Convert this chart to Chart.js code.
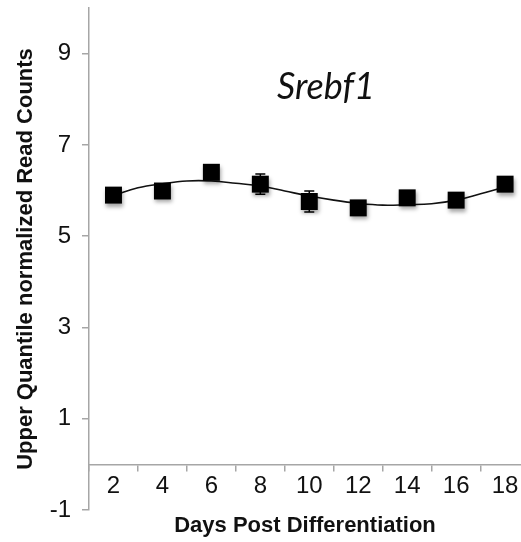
<!DOCTYPE html>
<html>
<head>
<meta charset="utf-8">
<script src="https://cdn.jsdelivr.net/npm/chart.js@4.4.0/dist/chart.umd.min.js"></script>
<style>
  html, body { margin: 0; padding: 0; background: #fff; }
  #wrap { position: relative; width: 521px; height: 542px; }
</style>
</head>
<body>
<div id="wrap"><canvas id="srebf1Chart"></canvas></div>
<script>
// valeurs
const days = [2, 4, 6, 8, 10, 12, 14, 16, 18];
const readCounts = [5.90, 5.99, 6.40, 6.14, 5.76, 5.62, 5.84, 5.79, 6.14];
const readErrors = [0.10, 0.10, 0.10, 0.22, 0.23, 0.10, 0.10, 0.10, 0.10];
const trendDays = [2, 3, 4, 5, 6, 7, 8, 9, 10, 11, 12, 13, 14, 15, 16, 17, 18];
const trendValues = [5.89, 6.06, 6.15, 6.21, 6.21, 6.16, 6.10, 5.99, 5.88, 5.79, 5.72, 5.68, 5.69, 5.71, 5.79, 5.93, 6.08];
const yTicks = [-1, 1, 3, 5, 7, 9];
const geneName = 'Srebf1';

const axisColor = '#a6a6a6';

// barres d'erreur, dessinées via les échelles du graphique
const errorBars = {
  id: 'errorBars',
  beforeDatasetsDraw(chart) {
    const ctx = chart.ctx;
    const xs = chart.scales.x;
    const ys = chart.scales.y;
    ctx.save();
    ctx.strokeStyle = '#000';
    ctx.lineWidth = 1.5;
    days.forEach((d, i) => {
      const px = xs.getPixelForValue(d);
      const top = ys.getPixelForValue(readCounts[i] + readErrors[i]);
      const bot = ys.getPixelForValue(readCounts[i] - readErrors[i]);
      ctx.beginPath();
      ctx.moveTo(px, top); ctx.lineTo(px, bot);
      ctx.moveTo(px - 5, top); ctx.lineTo(px + 5, top);
      ctx.moveTo(px - 5, bot); ctx.lineTo(px + 5, bot);
      ctx.stroke();
    });
    ctx.restore();
  }
};

// ombre sous les carrés
const markerShadow = {
  id: 'markerShadow',
  beforeDatasetDraw(chart, args) {
    if (args.index !== 0) return;
    const ctx = chart.ctx;
    ctx.save();
    ctx.shadowColor = 'rgba(0,0,0,0.35)';
    ctx.shadowBlur = 4;
    ctx.shadowOffsetX = 1;
    ctx.shadowOffsetY = 3;
  },
  afterDatasetDraw(chart, args) {
    if (args.index !== 0) return;
    chart.ctx.restore();
  }
};

// nom du gène dans la zone du graphique
const geneLabel = {
  id: 'geneLabel',
  afterDraw(chart) {
    const ctx = chart.ctx;
    ctx.save();
    ctx.font = 'italic 36px Lato, "Open Sans", sans-serif';
    ctx.fillStyle = '#111';
    ctx.textAlign = 'center';
    ctx.textBaseline = 'alphabetic';
    ctx.fillText(geneName, 326, 99);
    ctx.restore();
  }
};

const ctx = document.getElementById('srebf1Chart').getContext('2d');

new Chart(ctx, {
  type: 'scatter',
  data: {
    datasets: [
      {
        label: geneName,
        data: days.map((d, i) => ({ x: d, y: readCounts[i] })),
        showLine: false,
        pointStyle: 'rect',
        pointRadius: 12,
        pointHoverRadius: 12,
        backgroundColor: '#000',
        borderColor: '#000',
        borderWidth: 0
      },
      {
        label: 'trend',
        data: trendDays.map((d, i) => ({ x: d, y: trendValues[i] })),
        showLine: true,
        tension: 0.4,
        borderColor: '#111',
        borderWidth: 1.6,
        pointRadius: 0,
        pointHoverRadius: 0,
        fill: false
      }
    ]
  },
  options: {
    responsive: true,
    maintainAspectRatio: false,
    animation: false,
    layout: { autoPadding: false, padding: { top: 8, right: 0, bottom: 32, left: 0 } },
    plugins: {
      legend: { display: false },
      tooltip: { enabled: false }
    },
    scales: {
      x: {
        type: 'linear',
        position: { y: 0 },
        min: 1,
        max: 18.65,
        afterBuildTicks(scale) {
          scale.ticks = days.map(v => ({ value: v }));
        },
        afterFit(scale) {
          scale.paddingLeft = 0;
          scale.paddingRight = 0;
        },
        grid: {
          drawOnChartArea: false,
          drawTicks: true,
          tickLength: 6,
          offset: true,
          color: axisColor,
          lineWidth: 1.5
        },
        border: { display: true, color: axisColor, width: 1.5 },
        ticks: {
          padding: 2,
          maxRotation: 0,
          autoSkip: false,
          color: '#111',
          font: { family: '"Liberation Sans", Arial, sans-serif', size: 24 }
        },
        title: {
          display: true,
          text: 'Days Post Differentiation',
          color: '#111',
          padding: { top: 10, bottom: 0 },
          font: { family: '"Liberation Sans", Arial, sans-serif', size: 22, weight: 'bold' }
        }
      },
      y: {
        type: 'linear',
        position: 'left',
        min: -1,
        max: 10,
        afterBuildTicks(scale) {
          scale.ticks = yTicks.map(v => ({ value: v }));
        },
        afterFit(scale) {
          scale.width = 89;
          scale.paddingTop = 0;
          scale.paddingBottom = 0;
        },
        grid: {
          drawOnChartArea: false,
          drawTicks: true,
          tickLength: 7,
          color: axisColor,
          lineWidth: 1.5
        },
        border: { display: true, color: axisColor, width: 1.5 },
        ticks: {
          padding: 11,
          color: '#111',
          font: { family: '"Liberation Sans", Arial, sans-serif', size: 24 }
        },
        title: {
          display: true,
          text: 'Upper Quantile normalized Read Counts',
          color: '#111',
          padding: { top: 13, bottom: 0 },
          font: { family: '"Liberation Sans", Arial, sans-serif', size: 22, weight: 'bold' }
        }
      }
    }
  },
  plugins: [errorBars, markerShadow, geneLabel]
});
</script>
</body>
</html>
